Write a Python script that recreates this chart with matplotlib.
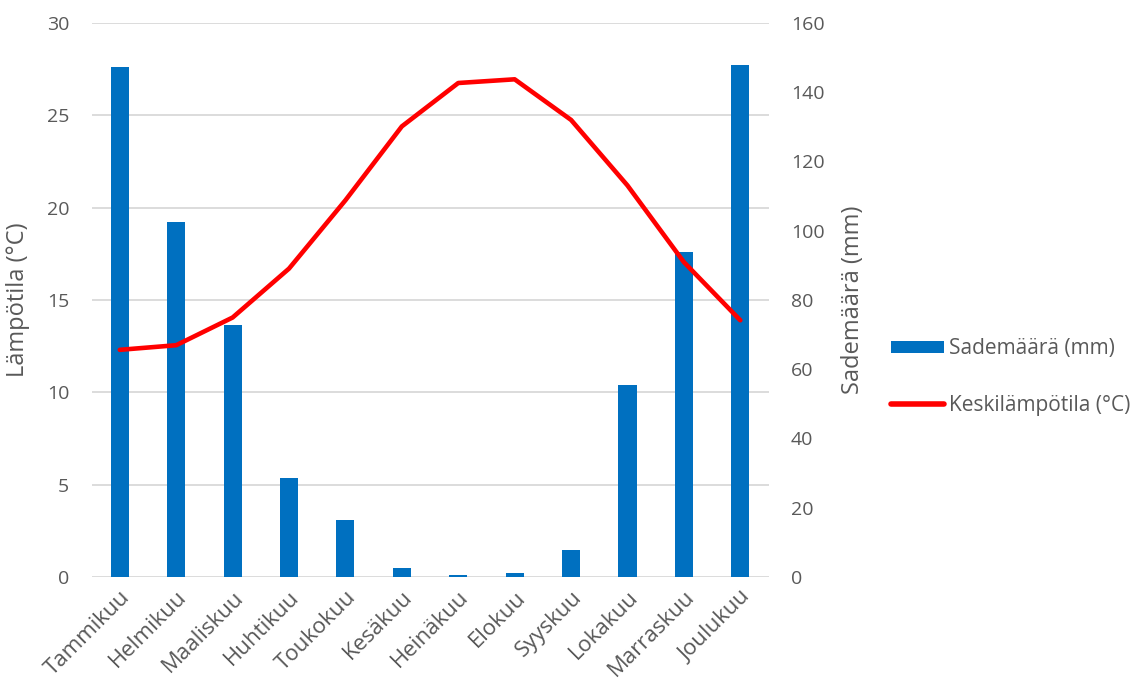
import matplotlib
matplotlib.use("Agg")
import matplotlib.pyplot as plt
from matplotlib.patches import Patch
from matplotlib.lines import Line2D

months = ["Tammikuu", "Helmikuu", "Maaliskuu", "Huhtikuu", "Toukokuu", "Kesäkuu",
          "Heinäkuu", "Elokuu", "Syyskuu", "Lokakuu", "Marraskuu", "Joulukuu"]
precip_mm = [147.3, 102.4, 72.7, 28.7, 16.4, 2.6, 0.5, 1.1, 7.9, 55.3, 93.8, 147.9]
temp_c = [12.3, 12.55, 14.05, 16.7, 20.4, 24.4, 26.75, 26.95, 24.75, 21.2, 17.05, 13.9]

left_ticks = [0, 5, 10, 15, 20, 25, 30]
right_ticks = [0, 20, 40, 60, 80, 100, 120, 140, 160]
temp_max = 30
precip_max = 160

grey = "#595959"
blue = "#0070C0"
red = "#FF0000"
gridc = "#D9D9D9"
plt.rcParams['font.family'] = ['Open Sans', 'DejaVu Sans']

fig = plt.figure(figsize=(11.32, 6.82), dpi=100)
ax1 = fig.add_axes([0.0809, 0.154, 0.598, 0.8123])
ax2 = ax1.twinx()

x = list(range(len(months)))

# gridlines (left-axis ticks) drawn on the bar axis so bars sit above them
for t in left_ticks:
    ax2.axhline(t * precip_max / temp_max, color=gridc, lw=1.3, zorder=0)

ax2.bar(x, precip_mm, width=0.32, color=blue, zorder=2)
ax1.plot(x, temp_c, color=red, lw=3.3, solid_capstyle='round', solid_joinstyle='round', zorder=3)

ax1.set_zorder(ax2.get_zorder() + 1)
ax1.patch.set_visible(False)

ax1.set_xlim(-0.5, len(months) - 0.5)
ax1.set_ylim(0, temp_max)
ax2.set_ylim(0, precip_max)
ax1.set_yticks(left_ticks)
ax2.set_yticks(right_ticks)
ax1.set_xticks(x)
ax1.set_xticklabels(months, rotation=45, ha='right', rotation_mode='anchor')

for ax in (ax1, ax2):
    for s in ax.spines.values():
        s.set_visible(False)
    ax.tick_params(length=0, labelsize=14, colors=grey)
ax1.tick_params(axis='x', labelsize=16, pad=7)
ax1.tick_params(axis='y', pad=16)
ax2.tick_params(axis='y', pad=16)

ax1.set_ylabel("Lämpötila (°C)", fontsize=17, color=grey, labelpad=12)
ax2.set_ylabel("Sademäärä (mm)", fontsize=17, color=grey, labelpad=12)

handles = [Patch(facecolor=blue, edgecolor='none'),
           Line2D([0], [0], color=red, lw=4, solid_capstyle='round')]
leg = fig.legend(handles, ["Sademäärä (mm)", "Keskilämpötila (°C)"],
                 loc='center left', bbox_to_anchor=(0.787, 0.447), frameon=False,
                 fontsize=15, handlelength=2.55, handleheight=0.5, labelspacing=1.72,
                 handletextpad=0.25, labelcolor=grey, borderaxespad=0, borderpad=0)

fig.savefig("out.png", dpi=100)
